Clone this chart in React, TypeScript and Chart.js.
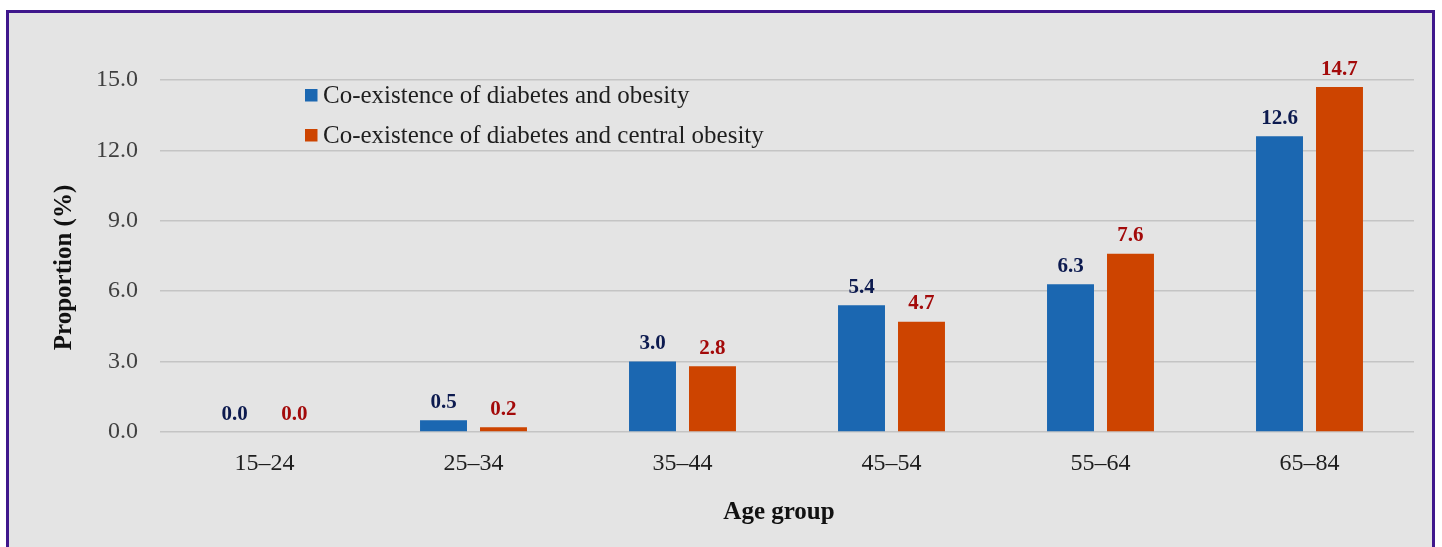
import React, { useEffect, useRef } from "react";
import { Chart, registerables } from "chart.js";

Chart.register(...registerables);

const categories = ["15–24", "25–34", "35–44", "45–54", "55–64", "65–84"];
const obesity = [0.0, 0.5, 3.0, 5.4, 6.3, 12.6];
const centralObesity = [0.0, 0.2, 2.8, 4.7, 7.6, 14.7];
const seriesNames = [
  "Co-existence of diabetes and obesity",
  "Co-existence of diabetes and central obesity",
];
const yTicks = [0, 3, 6, 9, 12, 15];

const SERIF = "'Liberation Serif', 'Times New Roman', serif";
const BAR_COLORS = ["#1b67b1", "#cd4400"];
const LABEL_COLORS = ["#0c1a4f", "#a30a0a"];

const framePlugin = {
  id: "frame",
  beforeDraw(chart: any) {
    const { ctx, width, height } = chart;
    ctx.save();
    ctx.fillStyle = "#ffffff";
    ctx.fillRect(0, 0, width, height);
    ctx.fillStyle = "#e4e4e4";
    ctx.fillRect(7.5, 11.5, 1426, height);
    ctx.strokeStyle = "#3f178c";
    ctx.lineWidth = 3;
    ctx.strokeRect(7.5, 11.5, 1426, height + 20);
    ctx.restore();
  },
};

const overlayPlugin = {
  id: "overlay",
  afterDatasetsDraw(chart: any) {
    const { ctx } = chart;
    ctx.save();
    // value labels
    ctx.font = `bold 21px ${SERIF}`;
    ctx.textAlign = "center";
    ctx.textBaseline = "alphabetic";
    chart.data.datasets.forEach((ds: any, i: number) => {
      const meta = chart.getDatasetMeta(i);
      meta.data.forEach((el: any, j: number) => {
        ctx.fillStyle = LABEL_COLORS[i];
        ctx.fillText(Number(ds.data[j]).toFixed(1), el.x, el.y - 12.5);
      });
    });
    // legend
    ctx.font = `25px ${SERIF}`;
    ctx.textAlign = "left";
    ctx.textBaseline = "middle";
    seriesNames.forEach((name, i) => {
      const cy = 95 + i * 40;
      ctx.fillStyle = BAR_COLORS[i];
      ctx.fillRect(305, cy - 6, 12.5, 12.5);
      ctx.fillStyle = "#1e1e1e";
      ctx.fillText(name, 323, cy + 1.5);
    });
    // axis titles
    ctx.font = `bold 25px ${SERIF}`;
    ctx.fillStyle = "#111111";
    ctx.textAlign = "center";
    ctx.textBaseline = "alphabetic";
    ctx.fillText("Age group", 779, 519);
    ctx.translate(71, 267.5);
    ctx.rotate(-Math.PI / 2);
    ctx.fillText("Proportion (%)", 0, 0);
    ctx.restore();
  },
};

export default function App() {
  const ref = useRef<HTMLCanvasElement>(null);
  useEffect(() => {
    if (!ref.current) return;
    const chart = new Chart(ref.current, {
      type: "bar",
      data: {
        labels: categories,
        datasets: [
          {
            label: seriesNames[0],
            data: obesity,
            backgroundColor: BAR_COLORS[0],
            categoryPercentage: 0.574,
            barPercentage: 0.783,
          },
          {
            label: seriesNames[1],
            data: centralObesity,
            backgroundColor: BAR_COLORS[1],
            categoryPercentage: 0.574,
            barPercentage: 0.783,
          },
        ],
      },
      options: {
        animation: false,
        responsive: false,
        maintainAspectRatio: false,
        layout: { padding: { left: 0, top: 80, right: 28, bottom: 0 } },
        plugins: {
          legend: { display: false },
          tooltip: { enabled: false },
          title: { display: false },
        },
        scales: {
          x: {
            grid: { display: false, drawTicks: false },
            border: { display: false },
            ticks: {
              color: "#1e1e1e",
              font: { family: SERIF, size: 24 },
              padding: 17,
            },
            afterFit(scale: any) {
              scale.height = 115;
            },
          },
          y: {
            min: 0,
            max: 15,
            afterBuildTicks(scale: any) {
              scale.ticks = yTicks.map((v) => ({ value: v }));
            },
            grid: { color: "#c4c4c4", lineWidth: 1.5, drawTicks: false },
            border: { display: false },
            ticks: {
              color: "#404040",
              font: { family: SERIF, size: 24 },
              padding: 22,
              callback: (v: any) => Number(v).toFixed(1),
            },
            afterFit(scale: any) {
              scale.width = 160;
            },
          },
        },
      },
      plugins: [framePlugin, overlayPlugin],
    });
    return () => chart.destroy();
  }, []);
  return (
    <div style={{ position: "fixed", left: 0, top: 0, width: 1442, height: 547, overflow: "hidden" }}>
      <canvas ref={ref} width={1442} height={547} style={{ display: "block", width: 1442, height: 547 }} />
    </div>
  );
}
